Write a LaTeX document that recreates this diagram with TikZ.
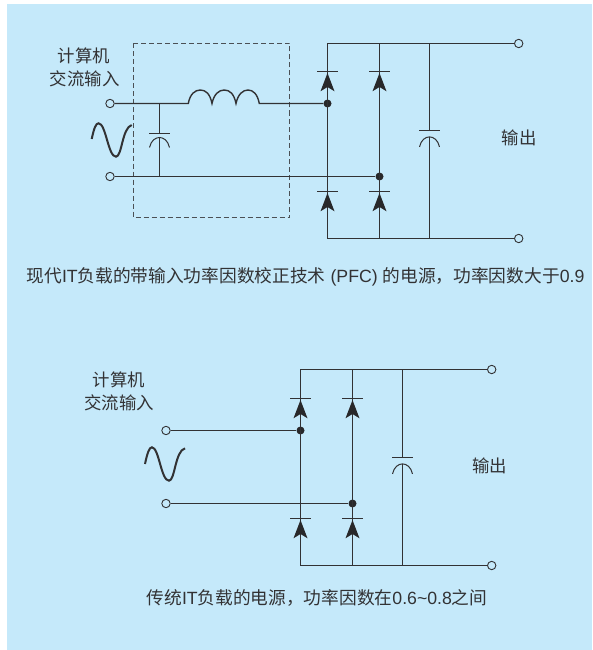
\documentclass[tikz,border=0pt]{standalone}
\usepackage{xcolor}
\usepackage{fontspec}
\usepackage{tikz}
\setmainfont{Liberation Sans}
\newfontfamily\cjk{Noto Sans CJK SC}
\definecolor{panelblue}{RGB}{197,233,250}
\definecolor{wiregray}{RGB}{50,50,52}
\definecolor{boxgray}{RGB}{75,80,85}
\tikzset{
  wire/.style={draw=wiregray, line width=1.4pt},
  terminal/.style={circle, draw=wiregray, fill=panelblue, line width=0.9pt, minimum size=8.4pt, inner sep=0pt},
  junction/.style={circle, fill=wiregray!80!black, minimum size=8pt, inner sep=0pt},
  label/.style={text=wiregray, inner sep=0pt, font=\cjk\fontsize{17.4}{20}\selectfont},
  caption/.style={text=wiregray, inner sep=0pt, font=\fontsize{17.7}{20}\selectfont},
  wave/.style={draw=wiregray, line width=2pt},
  pics/diode/.style={code={
    \draw[wire] (-10.3,0) -- (10.3,0);
    \fill[wiregray!80!black] (0,1.5) -- (7,19.8) -- (0,15.5) -- (-7,19.8) -- cycle;
  }},
  pics/capacitor/.style={code={
    \draw[wire] (-10.3,0) -- (10.3,0);
    \draw[wire, line width=1pt] (-10,#1+10) .. controls (-8.5,#1+3) and (-4,#1) .. (0,#1) .. controls (4,#1) and (8.5,#1+3) .. (10,#1+10);
  }}
}
\begin{document}
\begin{tikzpicture}[x=1pt,y=-1pt]
\useasboundingbox (0,0) rectangle (592,650);
\fill[panelblue] (7,4) rectangle (592,650);

% PFC supply
\node[terminal] (inA) at (110,103.5) {};
\node[terminal] (inB) at (110,176.5) {};
\node[terminal] (outA) at (518.7,43.5) {};
\node[terminal] (outB) at (518.7,238.5) {};
\node[junction] (dotA) at (327.5,103.5) {};
\node[junction] (dotB) at (379.5,176.5) {};
\coordinate (coilL) at (188.3,103.5);
\coordinate (coilR) at (259.3,103.5);
\coordinate (capT) at (159.5,103.5);
\coordinate (capB) at (159.5,176.5);
\coordinate (capP) at (159.5,133.5);
\coordinate (capQ) at (159.5,137.3);
\coordinate (tl) at (327.5,43.5);
\coordinate (bl) at (327.5,238.5);
\coordinate (tm) at (379.5,43.5);
\coordinate (bm) at (379.5,238.5);
\coordinate (tc) at (429.5,43.5);
\coordinate (bc) at (429.5,238.5);
\coordinate (smoothP) at (429.5,130.5);
\coordinate (smoothQ) at (429.5,136.7);

\draw[boxgray, line width=1.4pt, dash pattern=on 5pt off 3pt] (133.5,43.5) rectangle (289.5,217.5);
\draw[wire] (inA) -- (coilL)
  .. controls (190,94) and (195,90) .. (200.3,90) .. controls (206,90) and (210,94) .. (212,103.5)
  .. controls (214,94) and (219,90) .. (224.2,90) .. controls (230,90) and (234,94) .. (236,103.5)
  .. controls (238,94) and (243,90) .. (248,90) .. controls (253,90) and (257.5,94) .. (coilR)
  -- (dotA);
\draw[wire] (inB) -- (dotB);
\draw[wire] (capT) -- (capP);
\draw[wire] (capQ) -- (capB);
\pic at (capP) {capacitor=4};
\draw[wire] (outA) -- (tl) -- (bl) -- (outB);
\draw[wire] (tm) -- (bm);
\draw[wire] (tc) -- (smoothP);
\draw[wire] (smoothQ) -- (bc);
\pic at (smoothP) {capacitor=6.4};
\pic at (327.5,71.5) {diode};
\pic at (379.5,71.5) {diode};
\pic at (327.5,191.5) {diode};
\pic at (379.5,191.5) {diode};
\draw[wave] (91.7,139) .. controls (94,128) and (96,123.3) .. (98.5,123.3)
  .. controls (106,123.3) and (108,156.7) .. (116,156.7)
  .. controls (122,156.7) and (122,128) .. (131.7,125);
\node[label] (inTitleA) at (84,55.7) {计算机};
\node[label] (inNameA) at (84.7,79) {交流输入};
\node[label] (outNameA) at (519,138) {输出};
\node[caption] (capA) at (305.5,276.7) {{\cjk 现代}IT{\cjk 负载的带输入功率因数校正技术}\hspace{5pt}(PFC)\hspace{5pt}{\cjk 的电源，功率因数大于}0.9};

% legacy supply
\node[terminal] (inC) at (166,430.5) {};
\node[terminal] (inD) at (166,503.5) {};
\node[terminal] (outC) at (491.7,369.5) {};
\node[terminal] (outD) at (491.7,565.5) {};
\node[junction] (dotC) at (300.5,430.5) {};
\node[junction] (dotD) at (352.5,503.5) {};
\coordinate (tl2) at (300.5,369.5);
\coordinate (bl2) at (300.5,565.5);
\coordinate (tm2) at (352.5,369.5);
\coordinate (bm2) at (352.5,565.5);
\coordinate (tc2) at (402.5,369.5);
\coordinate (bc2) at (402.5,565.5);
\coordinate (smoothP2) at (402.5,457.5);
\coordinate (smoothQ2) at (402.5,463.9);

\draw[wire] (inC) -- (dotC);
\draw[wire] (inD) -- (dotD);
\draw[wire] (outC) -- (tl2) -- (bl2) -- (outD);
\draw[wire] (tm2) -- (bm2);
\draw[wire] (tc2) -- (smoothP2);
\draw[wire] (smoothQ2) -- (bc2);
\pic at (smoothP2) {capacitor=6.4};
\pic at (300.5,398.5) {diode};
\pic at (352.5,398.5) {diode};
\pic at (300.5,518.5) {diode};
\pic at (352.5,518.5) {diode};
\draw[wave] (145,464) .. controls (147.3,453) and (149.3,447.3) .. (151.9,447.3)
  .. controls (159,447.3) and (161,480.7) .. (169,480.7)
  .. controls (175,480.7) and (175,451) .. (185,448.3);
\node[label] (inTitleB) at (119,380) {计算机};
\node[label] (inNameB) at (119,403) {交流输入};
\node[label] (outNameB) at (489.7,465.7) {输出};
\node[caption] (capB2) at (317,598) {{\cjk 传统}IT{\cjk 负载的电源，功率因数在}0.6\textasciitilde0.8{\cjk 之间}};
\end{tikzpicture}
\end{document}
